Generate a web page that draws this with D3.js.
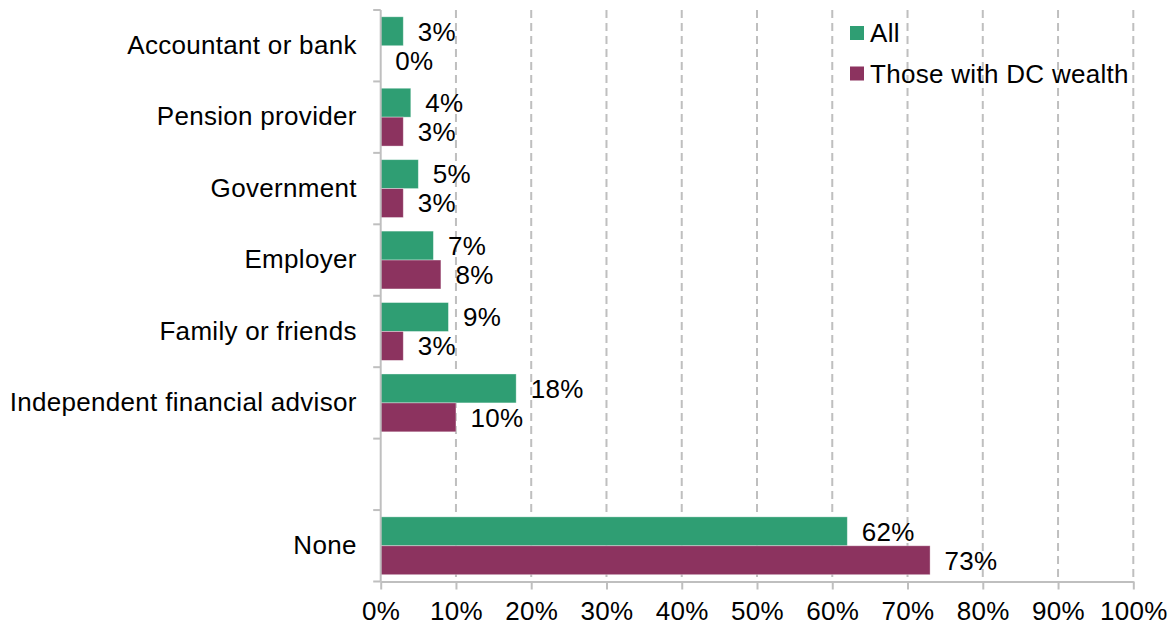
<!DOCTYPE html>
<html>
<head>
<meta charset="utf-8">
<script src="https://cdn.jsdelivr.net/npm/d3@7"></script>
<style>
  html, body { margin: 0; padding: 0; background: #fff; }
  svg text { font-family: "Liberation Sans", Arial, sans-serif; fill: #000; letter-spacing: 0.3px; }
</style>
</head>
<body>
<svg id="chart" width="1173" height="625"></svg>
<script>
// Sources of retirement advice, share of respondents (%)
const categories = [
  "Accountant or bank",
  "Pension provider",
  "Government",
  "Employer",
  "Family or friends",
  "Independent financial advisor",
  "",
  "None"
];
const allValues = [3, 4, 5, 7, 9, 18, null, 62];
const dcValues  = [0, 3, 3, 8, 3, 10, null, 73];
const seriesNames = ["All", "Those with DC wealth"];
const seriesColors = ["#2f9e73", "#8c335f"];
const xTicks = [0, 10, 20, 30, 40, 50, 60, 70, 80, 90, 100];

const svg = d3.select("#chart");
const fontSize = 26;
const plotLeft = 380.7, plotRight = 1133.3, plotTop = 10, plotBottom = 581.5;

const x = d3.scaleLinear().domain([0, 100]).range([plotLeft, plotRight]);
const slots = categories.map((c, i) => i);
const y = d3.scaleBand().domain(slots).range([plotTop, plotBottom]);
const sub = d3.scaleBand().domain([0, 1]).range([0, y.bandwidth()])
  .paddingInner(0).paddingOuter(0.235);

const gridColor = "#bfbfbf";

// dashed vertical gridlines
svg.append("g").selectAll("line")
  .data(xTicks.filter(t => t > 0))
  .join("line")
  .attr("x1", d => x(d)).attr("x2", d => x(d))
  .attr("y1", plotTop).attr("y2", plotBottom)
  .attr("stroke", gridColor)
  .attr("stroke-width", 2)
  .attr("stroke-dasharray", "8,5");

// bars and value labels
const rows = categories.map((c, i) => ({ i, vals: [allValues[i], dcValues[i]] }));
const barG = svg.append("g");
rows.forEach(r => {
  r.vals.forEach((v, s) => {
    if (v === null) return;
    barG.append("rect")
      .attr("x", x(0))
      .attr("y", y(r.i) + sub(s))
      .attr("width", x(v) - x(0))
      .attr("height", sub.bandwidth())
      .attr("fill", seriesColors[s])
      .attr("stroke", "rgba(255,255,255,0.45)")
      .attr("stroke-width", 0.8);
    barG.append("text")
      .attr("x", x(v) + 14.5)
      .attr("y", y(r.i) + sub(s) + sub.bandwidth() / 2)
      .attr("dy", "0.36em")
      .attr("font-size", fontSize)
      .text(v + "%");
  });
});

// x axis
const xAxis = svg.append("g")
  .attr("transform", `translate(0,${plotBottom})`)
  .call(d3.axisBottom(x).tickValues(xTicks).tickFormat(d => d + "%")
    .tickSize(8).tickPadding(12).tickSizeOuter(0));
xAxis.select(".domain").attr("stroke", gridColor).attr("stroke-width", 2);
xAxis.selectAll(".tick line").attr("stroke", gridColor).attr("stroke-width", 2);
xAxis.selectAll(".tick text")
  .attr("font-size", fontSize)
  .attr("font-family", "Liberation Sans, Arial, sans-serif")
  .attr("fill", "#000");

// y axis: category labels centred in each band, ticks at band edges
const yAxis = svg.append("g")
  .attr("transform", `translate(${plotLeft},0)`)
  .call(d3.axisLeft(y).tickFormat(i => categories[i]).tickSize(0).tickPadding(24));
yAxis.select(".domain").attr("stroke", gridColor).attr("stroke-width", 2)
  .attr("d", `M0,${plotTop}V${plotBottom}`);
yAxis.selectAll(".tick text")
  .attr("font-size", fontSize)
  .attr("font-family", "Liberation Sans, Arial, sans-serif")
  .attr("fill", "#000");
const edges = slots.map(i => y(i)).concat([plotBottom]);
yAxis.append("g").selectAll("line")
  .data(edges)
  .join("line")
  .attr("x1", -7.5).attr("x2", 0)
  .attr("y1", d => d).attr("y2", d => d)
  .attr("stroke", gridColor).attr("stroke-width", 2);

// legend
const legend = svg.append("g").attr("transform", "translate(850,26)");
seriesNames.forEach((name, s) => {
  const g = legend.append("g").attr("transform", `translate(0,${s * 40.5})`);
  g.append("rect").attr("width", 14).attr("height", 14).attr("fill", seriesColors[s]);
  g.append("text").attr("x", 20).attr("y", 7).attr("dy", "0.36em")
    .attr("font-size", fontSize).text(name);
});
</script>
</body>
</html>
